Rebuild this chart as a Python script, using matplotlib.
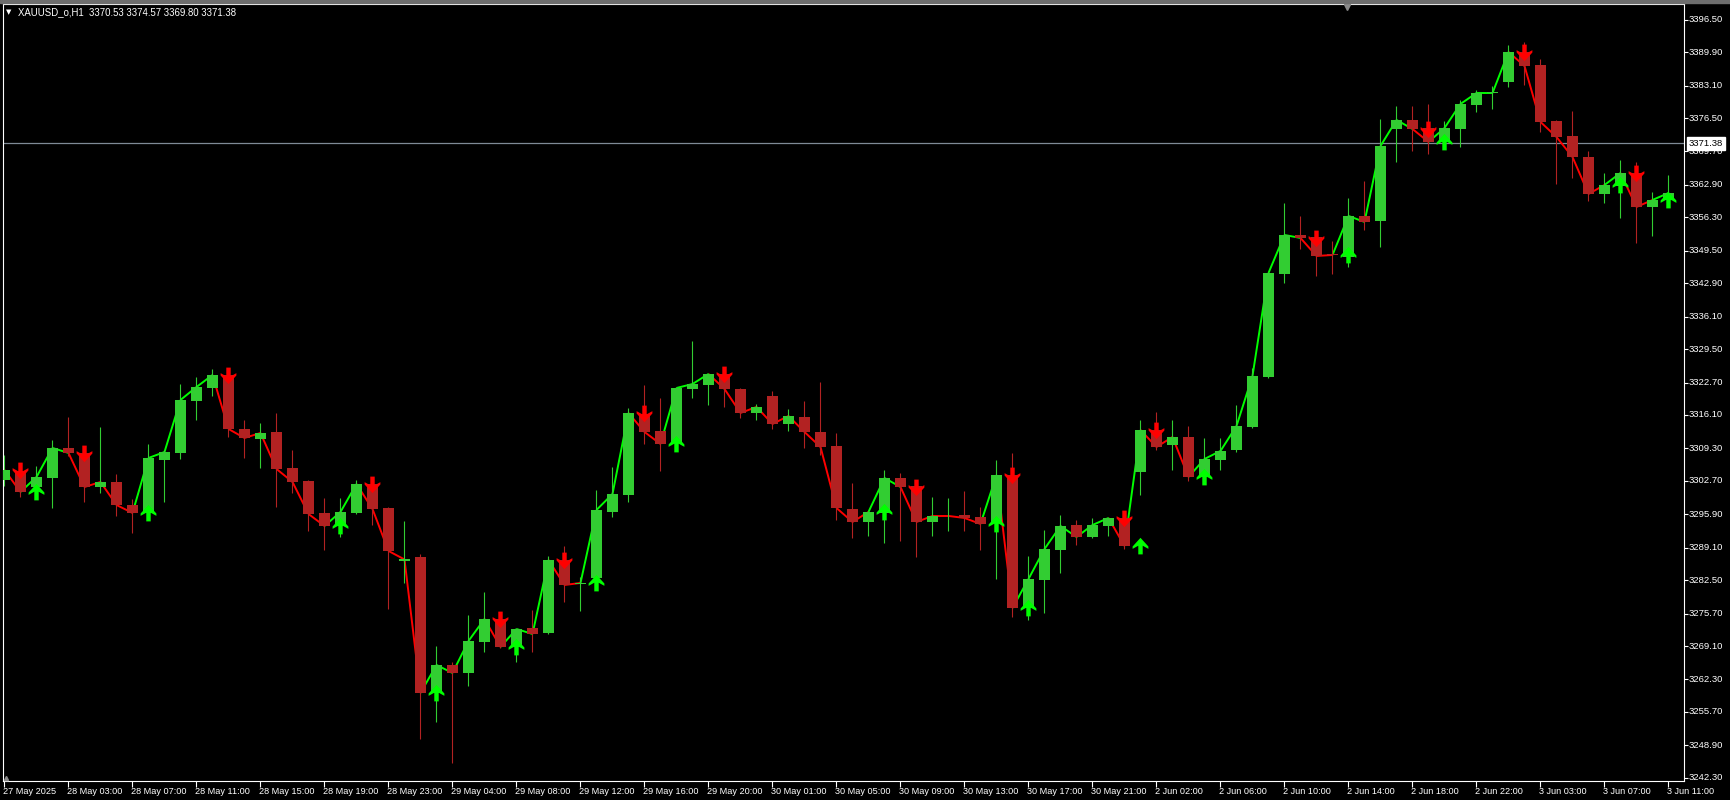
import matplotlib

matplotlib.use("Agg")
import matplotlib.pyplot as plt
import numpy as np
from matplotlib.path import Path
from matplotlib.collections import LineCollection
from matplotlib.patches import Rectangle
from matplotlib.transforms import blended_transform_factory, offset_copy

plt.rcParams["font.family"] = ["Liberation Sans", "DejaVu Sans"]

# =============================================================================
# Data: XAUUSD_o H1 bars, 27 May 23:00 .. 3 Jun 11:00
# =============================================================================
opens = [
    3302.88, 3304.71, 3301.45, 3303.28, 3309.39, 3308.37, 3301.45, 3302.47, 3297.79, 3296.17,
    3306.95, 3308.37, 3318.95, 3321.59, 3324.23, 3313.25, 3311.22, 3312.64, 3305.32, 3302.67,
    3296.17, 3293.52, 3296.17, 3302.06, 3297.18, 3286.40, 3287.22, 3259.55, 3265.25, 3263.62,
    3269.93, 3274.61, 3268.91, 3272.77, 3271.76, 3286.61, 3281.72, 3282.94, 3296.37, 3299.83,
    3316.30, 3312.84, 3310.61, 3321.39, 3322.20, 3324.44, 3321.39, 3316.51, 3319.96, 3314.27,
    3315.69, 3312.64, 3309.79, 3296.98, 3294.34, 3296.17, 3303.28, 3301.66, 3294.34, 3295.45,
    3295.76, 3295.35, 3294.13, 3303.89, 3276.84, 3282.54, 3288.64, 3293.72, 3291.28, 3293.52,
    3295.15, 3304.51, 3313.05, 3310.00, 3311.62, 3303.49, 3306.95, 3308.98, 3313.66, 3323.83,
    3344.78, 3352.71, 3352.30, 3348.74, 3348.24, 3356.58, 3355.56, 3374.27, 3376.10, 3374.47,
    3371.63, 3374.27, 3379.15, 3381.49, 3383.83, 3389.93, 3387.29, 3375.90, 3372.85, 3368.58,
    3361.05, 3362.68, 3365.32, 3358.41, 3359.83,
]
highs = [
    3307.96, 3305.12, 3305.73, 3311.01, 3315.69, 3308.98, 3313.66, 3304.10, 3299.01, 3310.20,
    3308.98, 3322.40, 3323.83, 3325.46, 3325.05, 3315.08, 3314.47, 3316.51, 3308.98, 3302.88,
    3299.22, 3299.22, 3302.88, 3303.08, 3297.39, 3294.54, 3287.83, 3269.11, 3265.86, 3275.42,
    3280.10, 3275.22, 3272.77, 3276.44, 3287.42, 3289.45, 3283.15, 3300.84, 3305.52, 3317.52,
    3322.20, 3319.56, 3321.79, 3331.15, 3324.64, 3325.86, 3321.59, 3318.34, 3320.98, 3317.32,
    3318.95, 3322.81, 3312.44, 3302.27, 3296.57, 3304.91, 3304.30, 3302.06, 3299.42, 3299.22,
    3300.64, 3297.39, 3306.95, 3308.37, 3287.42, 3292.71, 3295.76, 3294.74, 3295.15, 3295.35,
    3296.37, 3315.08, 3316.71, 3315.08, 3313.86, 3311.42, 3311.42, 3318.13, 3325.66, 3345.19,
    3359.22, 3356.58, 3353.12, 3351.49, 3360.24, 3363.69, 3376.31, 3378.95, 3378.95, 3379.36,
    3375.90, 3380.17, 3382.20, 3383.02, 3391.36, 3391.97, 3388.51, 3376.10, 3377.93, 3369.80,
    3365.32, 3367.97, 3367.56, 3361.46, 3364.91,
]
lows = [
    3301.66, 3299.42, 3300.84, 3297.18, 3307.76, 3298.40, 3300.23, 3295.56, 3292.10, 3295.56,
    3298.40, 3307.15, 3315.08, 3319.96, 3311.62, 3307.35, 3305.32, 3297.39, 3300.23, 3292.50,
    3288.64, 3291.28, 3295.96, 3293.72, 3276.64, 3281.93, 3250.20, 3253.66, 3245.32, 3260.98,
    3267.89, 3268.71, 3265.86, 3267.89, 3271.55, 3278.06, 3276.23, 3282.54, 3295.35, 3298.40,
    3310.20, 3304.71, 3310.00, 3319.56, 3318.13, 3317.73, 3315.49, 3315.08, 3313.25, 3312.84,
    3309.39, 3307.96, 3294.74, 3291.08, 3291.49, 3290.06, 3290.47, 3287.22, 3291.49, 3292.50,
    3292.50, 3288.64, 3282.74, 3275.01, 3274.40, 3275.83, 3283.96, 3289.66, 3291.08, 3291.49,
    3288.84, 3299.83, 3308.98, 3304.91, 3302.67, 3302.88, 3304.91, 3308.57, 3313.45, 3323.62,
    3342.95, 3349.86, 3344.37, 3344.78, 3346.20, 3353.73, 3350.27, 3367.56, 3369.80, 3369.19,
    3371.42, 3370.61, 3377.73, 3378.34, 3382.81, 3383.22, 3373.66, 3363.08, 3364.30, 3359.63,
    3359.22, 3356.17, 3351.08, 3352.51, 3359.63,
]
closes = [
    3304.91, 3300.44, 3303.49, 3309.39, 3308.37, 3301.45, 3302.47, 3297.79, 3296.17, 3307.35,
    3308.57, 3319.15, 3321.79, 3324.23, 3313.25, 3311.42, 3312.44, 3305.12, 3302.47, 3295.96,
    3293.52, 3296.37, 3302.06, 3296.98, 3288.44, 3286.71, 3259.55, 3265.25, 3263.62, 3270.13,
    3274.61, 3268.91, 3272.57, 3271.55, 3286.61, 3281.52, 3281.93, 3296.78, 3300.03, 3316.51,
    3312.64, 3310.20, 3321.59, 3322.40, 3324.44, 3321.39, 3316.51, 3317.73, 3314.27, 3315.90,
    3312.64, 3309.59, 3297.18, 3294.34, 3296.37, 3303.28, 3301.45, 3294.34, 3295.56, 3295.56,
    3295.15, 3293.93, 3303.89, 3276.84, 3282.74, 3288.84, 3293.52, 3291.28, 3293.72, 3295.15,
    3289.45, 3313.05, 3309.59, 3311.62, 3303.49, 3307.15, 3308.78, 3313.86, 3324.03, 3344.98,
    3352.71, 3352.10, 3348.44, 3348.64, 3356.58, 3355.36, 3370.81, 3376.10, 3374.27, 3371.63,
    3374.47, 3379.36, 3381.59, 3381.59, 3389.93, 3387.09, 3375.70, 3372.64, 3368.58, 3361.05,
    3362.88, 3365.32, 3358.41, 3359.83, 3361.25,
]

# signal arrows (bar index)
up_arrows = [2, 9, 21, 27, 32, 37, 42, 55, 62, 64, 71, 75, 84, 90, 101, 104]
down_arrows = [1, 5, 14, 23, 31, 35, 40, 45, 57, 63, 70, 72, 82, 89, 95, 102]

time_labels = [
    "27 May 2025", "28 May 03:00", "28 May 07:00", "28 May 11:00", "28 May 15:00",
    "28 May 19:00", "28 May 23:00", "29 May 04:00", "29 May 08:00", "29 May 12:00",
    "29 May 16:00", "29 May 20:00", "30 May 01:00", "30 May 05:00", "30 May 09:00",
    "30 May 13:00", "30 May 17:00", "30 May 21:00", "2 Jun 02:00", "2 Jun 06:00",
    "2 Jun 10:00", "2 Jun 14:00", "2 Jun 18:00", "2 Jun 22:00", "3 Jun 03:00",
    "3 Jun 07:00", "3 Jun 11:00",
]
price_ticks = [
    3396.50, 3389.90, 3383.10, 3376.50, 3369.70, 3362.90, 3356.30, 3349.50,
    3342.90, 3336.10, 3329.50, 3322.70, 3316.10, 3309.30, 3302.70, 3295.90,
    3289.10, 3282.50, 3275.70, 3269.10, 3262.30, 3255.70, 3248.90, 3242.30,
]
header = "XAUUSD_o,H1  3370.53 3374.57 3369.80 3371.38"
bid_price = 3371.38

BULL = "#32CD32"
BEAR = "#B22222"
LINE_UP = "#00FF00"
LINE_DN = "#FF0000"

# =============================================================================
# Figure
# =============================================================================
W, H = 1731, 800
fig = plt.figure(figsize=(W / 100, H / 100), dpi=100, facecolor="black")
ax = fig.add_axes([3 / W, 1 - 781 / H, (1684 - 3) / W, (781 - 4) / H])
ax.set_facecolor("black")

o = np.array(opens)
h = np.array(highs)
l = np.array(lows)
c = np.array(closes)
x = np.arange(len(c))
colors = np.where(c >= o, BULL, BEAR)

# candles
ax.vlines(x, l, h, colors=colors, linewidth=0.8, zorder=2)
ax.bar(x, np.maximum(np.abs(c - o), 0.2), bottom=np.minimum(o, c), width=0.68,
       color=colors, linewidth=0, zorder=3)

# close line coloured by signal state
state = []
cur = "down"
for i in range(len(c)):
    if i in up_arrows:
        cur = "up"
    elif i in down_arrows:
        cur = "down"
    state.append(cur)
segs = [[(i - 1, c[i - 1]), (i, c[i])] for i in range(1, len(c))]
seg_colors = [LINE_UP if state[i] == "up" else LINE_DN for i in range(1, len(c))]
ax.add_collection(LineCollection(segs, colors=seg_colors, linewidths=1.4, zorder=1))

# arrows (placed at the previous close)
arrow_verts = [(0, 0.55), (0.5, 0.0), (0.5, -0.15), (0.14, 0.05), (0.14, -0.5),
               (-0.14, -0.5), (-0.14, 0.05), (-0.5, -0.15), (-0.5, 0.0), (0, 0.55)]
up_marker = Path(arrow_verts, closed=True)
down_marker = Path([(vx, -vy) for vx, vy in arrow_verts], closed=True)
ua = np.array(up_arrows)
da = np.array(down_arrows)
ax.plot(ua, c[ua - 1], linestyle="none", marker=up_marker, ms=12.5,
        color=LINE_UP, mec=LINE_UP, mew=0, zorder=4)
ax.plot(da, c[da - 1], linestyle="none", marker=down_marker, ms=12.5,
        color=LINE_DN, mec=LINE_DN, mew=0, zorder=4)

# bid line
ax.axhline(bid_price, color="#7f8a96", linewidth=0.9, zorder=0.5)

ax.set_xlim((3 - 4.5) / 16, (1684 - 4.5) / 16)
ax.set_ylim(3241.65, 3399.69)

for sp in ax.spines.values():
    sp.set_color("white")
    sp.set_linewidth(0.8)

# axes ticks
tick_idx = np.arange(len(time_labels)) * 4
ax.set_xticks(tick_idx)
ax.set_yticks(price_ticks)
ax.yaxis.tick_right()
ax.tick_params(axis="x", colors="white", length=4, width=0.8, labelbottom=False)
ax.tick_params(axis="y", colors="white", length=3, width=0.8,
               labelright=False, labelleft=False)

trans_y = blended_transform_factory(ax.transAxes, ax.transData)
for p in price_ticks:
    ax.text(1.0, p, f"{p:.2f}", color="white", fontsize=6.8, ha="left", va="center",
            transform=offset_copy(trans_y, fig=fig, x=5, units="dots"))

trans_x = blended_transform_factory(ax.transData, ax.transAxes)
for t, lab in zip(tick_idx, time_labels):
    ax.text(t, 0.0, lab, color="white", fontsize=6.6, ha="left", va="top",
            transform=offset_copy(trans_x, fig=fig, x=-1.5, y=-6, units="dots"))

ax.text(1.0, bid_price, f"{bid_price:.2f}", color="black", fontsize=6.8,
        ha="left", va="center", zorder=6,
        transform=offset_copy(trans_y, fig=fig, x=5, units="dots"),
        bbox=dict(boxstyle="square,pad=0.2", fc="white", ec="white"))

# header / chrome
fig.patches.append(Rectangle((0, 1 - 3 / H), 1, 3 / H, transform=fig.transFigure,
                             color="#6e6e6e", zorder=0))
fig.text(6 / W, 1 - 12.5 / H, "\u25bc", color="white", fontsize=5,
         family="DejaVu Sans", va="center")
fig.text(18 / W, 1 - 12.5 / H, header, color="white", fontsize=6.9, va="center")
ax.plot([0.7995], [0.996], marker="v", ms=5, color="#8a8a8a",
        transform=ax.transAxes, clip_on=False, zorder=6)
ax.plot([0.002], [0.004], marker="^", ms=3, color="#8a8a8a",
        transform=ax.transAxes, clip_on=False, zorder=6)

fig.savefig("out.png", dpi=100, facecolor="black")
